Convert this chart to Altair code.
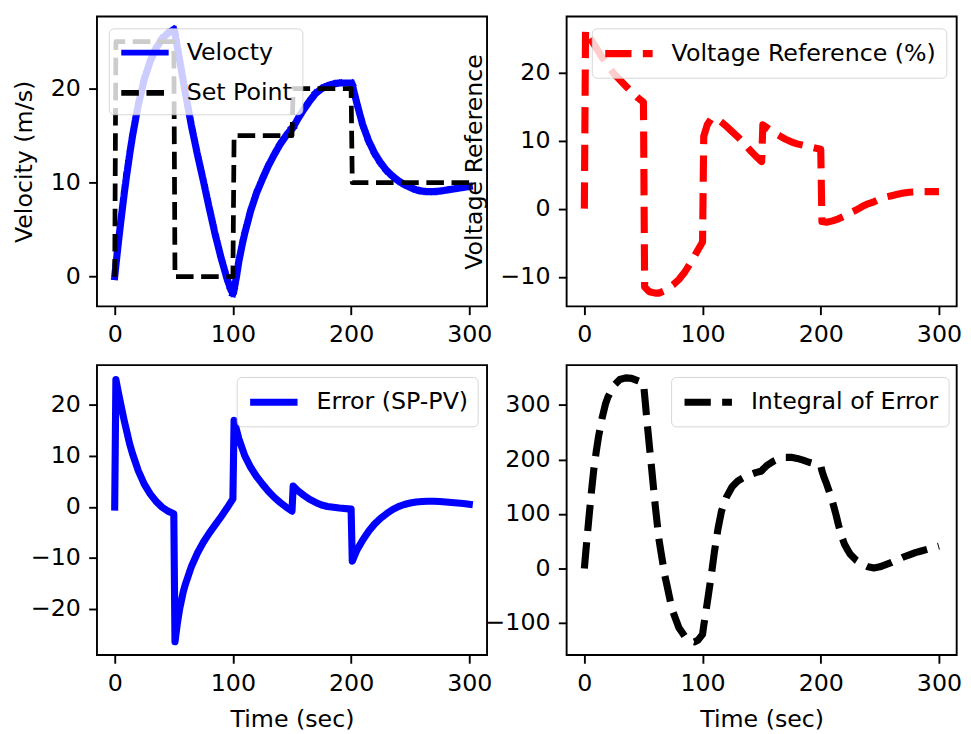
import altair as alt
import pandas as pd

FONT = "DejaVu Sans"

# ---------------- data ----------------
# Panel 1: velocity (m/s) and set point
vel_t = [0, 1, 3, 5, 8, 10, 13, 15, 18, 20, 25, 30, 35, 40, 45, 50,
         51, 55, 60, 65, 70, 75, 80, 85, 90, 95, 98, 100,
         101, 103, 105, 108, 110, 115, 120, 125, 130, 135, 140, 145, 150,
         151, 155, 160, 165, 170, 175, 180, 185, 190, 195, 200,
         201, 203, 205, 208, 210, 215, 220, 225, 230, 235, 240, 245, 250,
         255, 260, 265, 270, 275, 280, 285, 290, 295, 300]
vel_v = [0, 1.2, 3.5, 5.7, 8.8, 10.7, 13.3, 14.9, 17.0, 18.3, 21.0, 22.9, 24.3, 25.3, 25.9, 26.3,
         25.9, 23.0, 19.4, 16.0, 13.0, 10.2, 7.3, 4.5, 2.0, -0.2, -1.3, -1.8,
         -1.4, 0.0, 1.6, 3.5, 4.6, 7.0, 8.9, 10.4, 11.8, 13.0, 14.1, 15.0, 15.8,
         15.9, 16.8, 17.8, 18.7, 19.5, 20.0, 20.3, 20.5, 20.6, 20.6, 20.6,
         20.4, 19.4, 18.4, 17.0, 16.1, 14.4, 13.1, 12.1, 11.3, 10.7, 10.2, 9.8, 9.5,
         9.25, 9.1, 9.05, 9.05, 9.1, 9.2, 9.3, 9.4, 9.5, 9.6]
sp_t = [0, 1, 50, 51, 100, 101, 150, 151, 200, 201, 300]
sp_v = [0, 25, 25, 0, 0, 15, 15, 20, 20, 10, 10]

# Panel 2: voltage reference (%)
volt_t = [0, 1, 5, 10, 15, 20, 25, 30, 35, 40, 45, 50,
          51, 55, 60, 63, 67, 70, 75, 80, 85, 90, 95, 100,
          101, 104, 107, 110, 113, 116, 120, 125, 130, 135, 140, 145, 150,
          151, 155, 160, 165, 170, 175, 180, 185, 190, 195, 200,
          201, 205, 210, 215, 220, 225, 230, 235, 240, 245, 250, 255, 260,
          265, 270, 275, 280, 285, 290, 295, 300]
volt_u = [0, 26.2, 25.0, 23.6, 22.2, 20.9, 19.8, 18.9, 18.0, 17.1, 16.3, 15.6,
          -11.5, -12.2, -12.4, -12.4, -12.1, -11.8, -11.2, -10.4, -9.3, -7.9, -6.4, -4.9,
          10.6, 12.3, 13.1, 13.3, 13.1, 12.7, 12.1, 11.3, 10.5, 9.6, 8.6, 7.7, 6.9,
          12.3, 11.8, 11.2, 10.7, 10.2, 9.8, 9.5, 9.3, 9.1, 8.9, 8.7,
          -1.9, -2.0, -1.8, -1.5, -1.1, -0.6, -0.2, 0.3, 0.7, 1.0, 1.4, 1.7, 1.9,
          2.1, 2.3, 2.4, 2.45, 2.5, 2.5, 2.5, 2.5]

# Panel 3: error (SP-PV)
err_t = [0, 1, 3, 5, 8, 10, 12.5, 15, 20, 25, 30, 35, 40, 45, 50,
         51, 53, 55, 58, 60, 65, 70, 75, 80, 85, 90, 95, 100,
         101, 105, 110, 115, 120, 125, 130, 135, 140, 145, 150,
         151, 155, 160, 165, 170, 175, 180, 190, 200,
         201, 205, 210, 215, 220, 225, 230, 235, 240, 245, 250, 255, 260,
         265, 270, 275, 280, 285, 290, 295, 300]
err_e = [0, 25, 22.6, 20.3, 17.0, 15.0, 12.5, 10.5, 7.1, 4.5, 2.6, 1.1, 0.0, -0.8, -1.3,
         -26.4, -22.8, -19.9, -16.6, -15.0, -11.6, -9.0, -6.9, -5.1, -3.5, -1.9, -0.2, 1.6,
         17.0, 13.4, 10.1, 7.8, 6.0, 4.5, 3.1, 1.9, 0.9, 0.0, -0.8,
         4.1, 3.2, 2.3, 1.5, 0.9, 0.4, 0.1, -0.2, -0.4,
         -10.6, -8.4, -6.4, -4.7, -3.3, -2.2, -1.3, -0.5, 0.1, 0.5, 0.8, 1.0, 1.1,
         1.15, 1.15, 1.1, 1.0, 0.9, 0.8, 0.7, 0.55]

# Panel 4: integral of error
int_t = [0, 1, 2, 4, 6, 8, 10, 12, 15, 18, 20, 25, 30, 35, 40, 45, 50,
         51, 53, 55, 57, 60, 63, 65, 68, 70, 73, 75, 80, 85, 90, 93, 96, 100,
         101, 103, 105, 108, 110, 113, 116, 120, 125, 130, 135, 140, 145, 150,
         151, 155, 160, 165, 170, 175, 180, 185, 190, 195, 200,
         201, 203, 205, 208, 210, 213, 215, 218, 220, 223, 225, 230, 235, 240,
         245, 250, 255, 260, 265, 270, 275, 280, 285, 290, 295, 300]
int_v = [0, 25, 49, 96, 141, 182, 214, 242, 276, 303, 315, 336, 347, 350, 349, 345, 341,
         318, 270, 225, 182, 115, 55, 28, -12, -32, -63, -80, -109, -125, -133, -135, -132, -121,
         -105, -77, -48, -3, 30, 72, 105, 130, 150, 161, 167, 172, 176, 179,
         182, 190, 197, 202, 204, 204, 202, 199, 195, 192, 189,
         179, 166, 155, 136, 122, 98, 80, 57, 45, 33, 26, 15, 8, 3,
         1, 3, 7, 11, 16, 21, 25, 29, 32, 35, 38, 41]

X_TICKS = [0, 100, 200, 300]
W, H = 395, 293.5

LW3, LW2 = 7.2, 4.8
DASH3, DASH2 = [26.6, 11.5], [17.8, 7.7]

# legend geometry (matplotlib defaults at 24 px font)
LEG_PAD = 9.6
LEG_GAP = 12


def x_enc(title=None):
    return alt.X("t:Q", scale=alt.Scale(domain=[-15, 315], nice=False, zero=False),
                 axis=alt.Axis(values=X_TICKS, title=title, titlePadding=13))


def y_enc(domain, ticks, title=None):
    return alt.Y("y:Q", scale=alt.Scale(domain=domain, nice=False, zero=False),
                 axis=alt.Axis(values=ticks, title=title, titlePadding=13.5))


def make_legend(stroke_width, text_px, right, dash=None):
    # handle: a 48 px long horizontal stroke drawn as a custom symbol path
    box_w = 2 * LEG_PAD + 48 + 19.2 + text_px
    lx = (W - LEG_GAP - box_w) if right else LEG_GAP
    kw = dict(
        title=None, orient="none", legendX=lx, legendY=LEG_GAP, padding=LEG_PAD,
        fillColor="rgba(255,255,255,0.8)", strokeColor="rgba(204,204,204,0.8)",
        cornerRadius=4.8, labelFont=FONT, labelFontSize=24, labelColor="black",
        labelOffset=27.2, labelLimit=600, symbolType="M-2,0H2", symbolSize=576,
        symbolOffset=12, symbolStrokeWidth=stroke_width, symbolFillColor="transparent",
        rowPadding=13.7,
    )
    if dash is not None:
        kw["symbolDash"] = dash
    return alt.Legend(**kw)


# ---- panel 1 ----
d_vel = pd.DataFrame({"t": vel_t, "y": vel_v, "s": "Velocty"})
d_sp = pd.DataFrame({"t": sp_t, "y": sp_v, "s": "Set Point"})
leg1 = make_legend(6.0, 107.5, False)
s_dom = ["Velocty", "Set Point"]
c1 = alt.Color("s:N", scale=alt.Scale(domain=s_dom, range=["blue", "black"]), legend=leg1)
sd1 = alt.StrokeDash("s:N", scale=alt.Scale(domain=s_dom, range=[[1, 0], DASH2]), legend=leg1)
y1 = y_enc([-3.16, 27.68], [0, 10, 20], "Velocity (m/s)")
p1 = alt.layer(
    alt.Chart(d_vel).mark_line(strokeWidth=LW3, strokeCap="square", strokeJoin="round")
    .encode(x=x_enc(), y=y1, color=c1, strokeDash=sd1),
    alt.Chart(d_sp).mark_line(strokeWidth=LW2, strokeCap="butt", strokeJoin="round")
    .encode(x=x_enc(), y=y1, color=c1, strokeDash=sd1),
).properties(width=W, height=H)

# ---- panel 2 ----
d_volt = pd.DataFrame({"t": volt_t, "y": volt_u, "s": "Voltage Reference (%)"})
p2 = alt.Chart(d_volt).mark_line(strokeWidth=LW3, strokeDash=DASH3, strokeCap="butt", strokeJoin="round").encode(
    x=x_enc(), y=y_enc([-14.34, 28.19], [-10, 0, 10, 20], "Voltage Reference"),
    color=alt.Color("s:N", scale=alt.Scale(domain=["Voltage Reference (%)"], range=["red"]),
                    legend=make_legend(LW3, 271.1, True, DASH3)),
).properties(width=W, height=H)

# ---- panel 3 ----
d_err = pd.DataFrame({"t": err_t, "y": err_e, "s": "Error (SP-PV)"})
p3 = alt.Chart(d_err).mark_line(strokeWidth=LW3, strokeCap="square", strokeJoin="round").encode(
    x=x_enc("Time (sec)"), y=y_enc([-29.0, 27.84], [-20, -10, 0, 10, 20]),
    color=alt.Color("s:N", scale=alt.Scale(domain=["Error (SP-PV)"], range=["blue"]),
                    legend=make_legend(LW3, 155.1, True)),
).properties(width=W, height=H)

# ---- panel 4 ----
d_int = pd.DataFrame({"t": int_t, "y": int_v, "s": "Integral of Error"})
p4 = alt.Chart(d_int).mark_line(strokeWidth=LW3, strokeDash=DASH3, strokeCap="butt", strokeJoin="round").encode(
    x=x_enc("Time (sec)"), y=y_enc([-158.8, 373.4], [-100, 0, 100, 200, 300]),
    color=alt.Color("s:N", scale=alt.Scale(domain=["Integral of Error"], range=["black"]),
                    legend=make_legend(LW3, 190.8, True, DASH3)),
).properties(width=W, height=H)

chart = (
    alt.concat(p1, p2, p3, p4, columns=2, spacing={"row": 59, "column": 80.6}, bounds="flush")
    .resolve_scale(color="independent", strokeDash="independent")
    .properties(padding={"left": 4.1, "top": 3, "right": 0, "bottom": 0})
    .configure_view(stroke="black", strokeWidth=1.92)
    .configure_axis(
        domain=False, grid=False, ticks=True, tickSize=8.4, tickWidth=1.92, tickColor="black",
        labelFont=FONT, labelFontSize=24, labelColor="black", labelPadding=8.4,
        labelFlush=False, labelOverlap=False,
        titleFont=FONT, titleFontSize=24, titleFontWeight="normal", titleColor="black",
    )
)

chart.save("out.html", embed_options={"renderer": "svg", "actions": False})
